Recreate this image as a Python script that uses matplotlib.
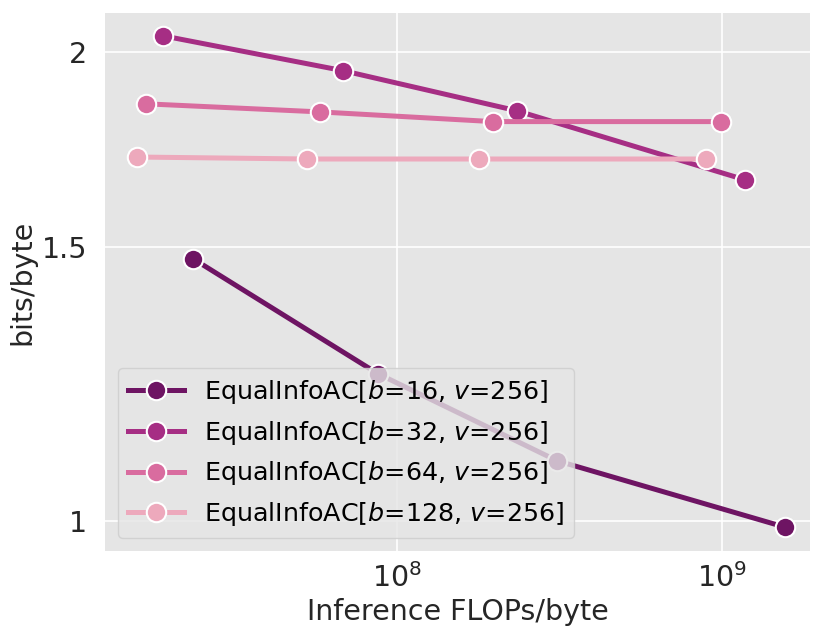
import matplotlib
matplotlib.use("Agg")
import matplotlib.pyplot as plt
from matplotlib.ticker import FixedLocator, FixedFormatter, NullLocator, LogLocator, LogFormatterMathtext

# inference FLOPs/byte and bits/byte
flops_b16 = [2.36e7, 8.74e7, 3.11e8, 1.56e9]
bpb_b16 = [1.473, 1.243, 1.093, 0.991]
flops_b32 = [1.90e7, 6.82e7, 2.34e8, 1.18e9]
bpb_b32 = [2.048, 1.945, 1.833, 1.655]
flops_b64 = [1.69e7, 5.80e7, 1.97e8, 9.93e8]
bpb_b64 = [1.852, 1.830, 1.804, 1.804]
flops_b128 = [1.585e7, 5.28e7, 1.79e8, 8.93e8]
bpb_b128 = [1.712, 1.707, 1.707, 1.707]

block_sizes = [16, 32, 64, 128]
colors = ["#6e1463", "#a62e84", "#d96c9f", "#eda9bc"]

plt.rcParams['font.family'] = ['DejaVu Sans']
plt.rcParams['mathtext.fontset'] = 'dejavusans'

fig = plt.figure(figsize=(8.3, 6.39), dpi=100)
ax = fig.add_axes([0.1265, 0.1377, 0.8495, 0.842])
ax.set_facecolor("#e5e5e5")
for s in ax.spines.values():
    s.set_visible(False)

series = [(flops_b16, bpb_b16), (flops_b32, bpb_b32), (flops_b64, bpb_b64), (flops_b128, bpb_b128)]
for (xs, ys), b, c in zip(series, block_sizes, colors):
    ax.plot(xs, ys, color=c, lw=3.6, marker="o", markersize=14,
            markeredgecolor="white", markeredgewidth=1.5,
            label=r"EqualInfoAC[$b$=%d, $v$=256]" % b)

ax.set_xscale("log")
ax.set_yscale("log")
ax.set_xlim(1.264e7, 1.866e9)
ax.set_ylim(0.9566, 2.118)

ax.xaxis.set_major_locator(LogLocator(base=10))
ax.xaxis.set_major_formatter(LogFormatterMathtext())
ax.xaxis.set_minor_locator(NullLocator())
ax.yaxis.set_major_locator(FixedLocator([1, 1.5, 2]))
ax.yaxis.set_major_formatter(FixedFormatter(["1", "1.5", "2"]))
ax.yaxis.set_minor_locator(NullLocator())

ax.grid(True, color="white", lw=1.2)
ax.set_axisbelow(True)
ax.tick_params(length=0, labelsize=20.5, colors="#262626")
ax.tick_params(axis="x", pad=9)
ax.tick_params(axis="y", pad=13)

ax.set_xlabel("Inference FLOPs/byte", fontsize=20.5, color="#262626", labelpad=3)
ax.set_ylabel("bits/byte", fontsize=20.5, color="#262626", labelpad=4)

leg = ax.legend(loc="lower left", fontsize=18.3, frameon=True, fancybox=True,
                facecolor="#e5e5e5", edgecolor="#cccccc", framealpha=0.8,
                handlelength=2.2, borderaxespad=0.5, labelspacing=0.5)

fig.savefig("out.png", dpi=100)
